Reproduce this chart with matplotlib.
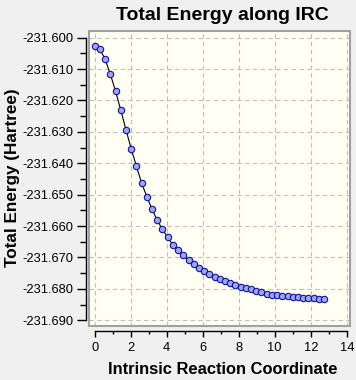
import matplotlib
matplotlib.use("Agg")
import matplotlib.pyplot as plt
from matplotlib.patches import Rectangle
from matplotlib.ticker import MultipleLocator

plt.rcParams['font.family'] = ['Liberation Sans', 'DejaVu Sans']

# Data
irc = [0.00, 0.29, 0.58, 0.87, 1.16, 1.45, 1.74, 2.03, 2.32, 2.61,
       2.90, 3.19, 3.47, 3.76, 4.05, 4.34, 4.63, 4.92, 5.21, 5.50,
       5.79, 6.08, 6.37, 6.66, 6.95, 7.24, 7.53, 7.82, 8.11, 8.40,
       8.69, 8.98, 9.26, 9.55, 9.84, 10.13, 10.42, 10.71, 11.00, 11.29,
       11.58, 11.87, 12.16, 12.45, 12.74]
energy = [-231.60264, -231.60369, -231.60688, -231.61166, -231.61707,
          -231.62312, -231.62939, -231.63545, -231.64096, -231.64637,
          -231.65073, -231.65465, -231.65815, -231.66102, -231.66357,
          -231.66592, -231.66771, -231.66930, -231.67080, -231.67217,
          -231.67344, -231.67439, -231.67535, -231.67631, -231.67694,
          -231.67758, -231.67822, -231.67885, -231.67930, -231.67971,
          -231.68013, -231.68057, -231.68108, -231.68153, -231.68185,
          -231.68204, -231.68215, -231.68236, -231.68258, -231.68268,
          -231.68290, -231.68295, -231.68300, -231.68322, -231.68331]

title = "Total Energy along IRC"
xlabel = "Intrinsic Reaction Coordinate"
ylabel = "Total Energy (Hartree)"

W, H = 356, 380
fig = plt.figure(figsize=(W / 100, H / 100), dpi=100, facecolor='#F0F0F0')
ax = fig.add_axes([89 / W, 54 / H, 261 / W, 295 / H])
ax.set_facecolor('#FFFFF4')

ax.plot(irc, energy, color='black', lw=0.8, zorder=3)
ax.plot(irc, energy, ls='none', marker='o', ms=4.6, mfc='#9DA6EA',
        mec='#1010A0', mew=0.8, zorder=4)

ax.set_xlim(-0.317, 14.18)
ax.set_ylim(-231.69182, -231.59787)

ax.xaxis.set_major_locator(MultipleLocator(2))
ax.xaxis.set_minor_locator(MultipleLocator(1))
ax.yaxis.set_major_locator(MultipleLocator(0.01))
ax.yaxis.set_minor_locator(MultipleLocator(0.005))
ax.yaxis.set_major_formatter(matplotlib.ticker.FormatStrFormatter('%.3f'))

ax.grid(True, which='major', color='#BEBEBE', ls=(0, (4, 3)), lw=0.8, zorder=1)

for s in ['top', 'right']:
    ax.spines[s].set_visible(False)
ax.spines['left'].set_position(('outward', 2.2))
ax.spines['left'].set_bounds(-231.690, -231.600)
ax.spines['bottom'].set_position(('outward', 3.6))
ax.spines['bottom'].set_bounds(0, 14)
for s in ['left', 'bottom']:
    ax.spines[s].set_linewidth(1.0)
    ax.spines[s].set_color('black')

ax.tick_params(axis='y', which='major', length=6.3, width=1.0, pad=2.9,
               labelsize=9.3, direction='out')
ax.tick_params(axis='y', which='minor', length=4.3, width=1.0, direction='out')
ax.tick_params(axis='x', which='major', length=4.3, width=1.0, pad=3.4,
               labelsize=9.3, direction='out')
ax.tick_params(axis='x', which='minor', length=2.2, width=1.0, direction='out')

frame = Rectangle((0, 0), 1, 1, transform=ax.transAxes, fill=False,
                  edgecolor='#A0A0A0', lw=1.5, zorder=5, clip_on=False)
ax.add_patch(frame)

fig.text(222 / W, 1 - 20 / H, title, ha='center', va='baseline',
         fontsize=14.0, fontweight='bold')
fig.text(222.5 / W, 1 - 374 / H, xlabel, ha='center', va='baseline',
         fontsize=11.9, fontweight='bold')
fig.text(12.5 / W, 1 - 178 / H, ylabel, ha='center', va='center',
         rotation=90, fontsize=12.3, fontweight='bold')

fig.savefig('out.png', dpi=100, facecolor=fig.get_facecolor())
